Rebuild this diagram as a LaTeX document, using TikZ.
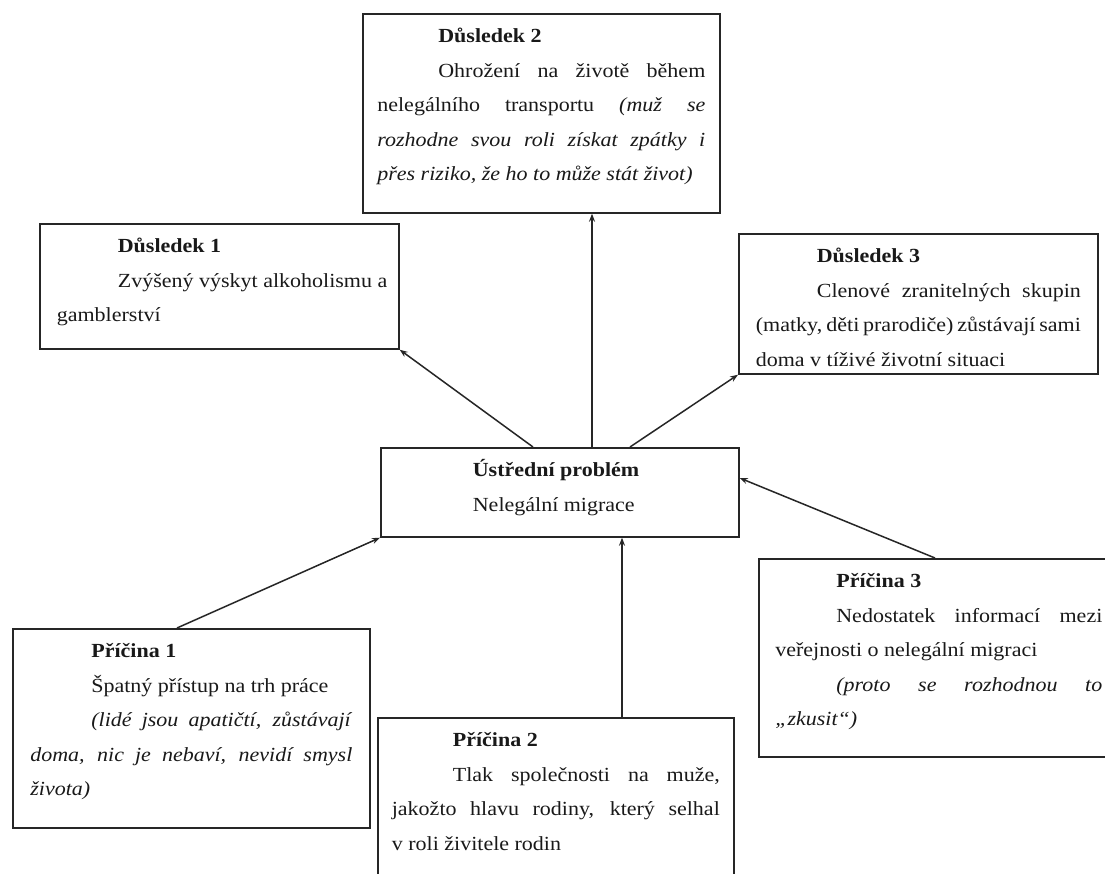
\documentclass[tikz,border=0pt]{standalone}
\usepackage{fontspec}
\setmainfont[FakeStretch=1.1]{Liberation Serif}
\usetikzlibrary{calc,arrows.meta}
\newcommand{\jl}[1]{\makebox[\linewidth][s]{#1}\\}
\newcommand{\pl}[1]{\makebox[\linewidth][l]{#1}\\}
\newcommand{\el}[1]{\makebox[\linewidth][l]{#1}}
\newcommand{\ind}{\hspace*{61pt}}
\newcommand{\fst}{\rule{0pt}{29pt}}
\newcommand{\boxtext}[3]{\parbox[t][#1][t]{#2}{\fontsize{20}{34.5}\selectfont\color{black!90}#3}}
\begin{document}
\begin{tikzpicture}[x=1pt,y=-1pt,
  bx/.style={draw=black!85,line width=1.7pt,inner sep=0pt,rectangle,anchor=north west},
  arr/.style={draw=black!85,line width=1.5pt,-{Stealth[length=8pt,width=6pt]}}]
\clip (0,0) rectangle (1105,873);
\fill[white] (0,0) rectangle (1105,873);

\node[bx,minimum width=357,minimum height=199] (d2) at (362,13)
 {\boxtext{199pt}{328pt}{%
  \pl{\fst\ind\textbf{Důsledek 2}}
  \jl{\ind Ohrožení na životě během}
  \jl{nelegálního transportu \textit{(muž se}}
  \jl{\textit{rozhodne svou roli získat zpátky i}}
  \el{\textit{přes riziko, že ho to může stát život)}}}};

\node[bx,minimum width=359,minimum height=125] (d1) at (39,223)
 {\boxtext{125pt}{325pt}{%
  \pl{\fst\ind\textbf{Důsledek 1}}
  \pl{\ind Zvýšený výskyt alkoholismu a}
  \el{gamblerství}}};

\node[bx,minimum width=359,minimum height=140] (d3) at (738,233)
 {\boxtext{140pt}{325pt}{%
  \pl{\fst\ind\textbf{Důsledek 3}}
  \jl{\ind Clenové zranitelných skupin}
  \jl{(matky, děti prarodiče) zůstávají sami}
  \el{doma v tíživé životní situaci}}};

\node[bx,minimum width=358,minimum height=89] (u) at (380,447)
 {\boxtext{89pt}{326pt}{%
  \pl{\fst\hspace*{76pt}\textbf{Ústřední problém}}
  \el{\hspace*{76pt}Nelegální migrace}}};

\node[bx,minimum width=357,minimum height=199] (p1) at (12,628)
 {\boxtext{199pt}{322pt}{%
  \pl{\fst\ind\textbf{Příčina 1}}
  \pl{\ind Špatný přístup na trh práce}
  \jl{\ind\textit{(lidé jsou apatičtí, zůstávají}}
  \jl{\textit{doma, nic je nebaví, nevidí smysl}}
  \el{\textit{života)}}}};

\node[bx,minimum width=356,minimum height=180] (p2) at (377,717)
 {\boxtext{180pt}{328pt}{%
  \pl{\fst\ind\textbf{Příčina 2}}
  \jl{\ind Tlak společnosti na muže,}
  \jl{jakožto hlavu rodiny, který selhal}
  \el{v roli živitele rodin}}};

\node[bx,minimum width=360,minimum height=198] (p3) at (758,558)
 {\boxtext{198pt}{327pt}{%
  \pl{\fst\ind\textbf{Příčina 3}}
  \jl{\ind Nedostatek informací mezi}
  \pl{veřejnosti o nelegální migraci}
  \jl{\ind\textit{(proto se rozhodnou to}}
  \el{\textit{„zkusit“)}}}};

\draw[arr] ($(u.north west)+(153,0)$) -- (d1.south east);
\draw[arr] ($(u.north west)+(212,0)$) -- ($(d2.south west)+(230,0)$);
\draw[arr] ($(u.north west)+(250,0)$) -- (d3.south west);
\draw[arr] ($(p1.north west)+(165,0)$) -- (u.south west);
\draw[arr] ($(p2.north west)+(245,0)$) -- ($(u.south west)+(242,0)$);
\draw[arr] ($(p3.north west)+(177,0)$) -- ($(u.north east)+(0,31)$);
\end{tikzpicture}
\end{document}
